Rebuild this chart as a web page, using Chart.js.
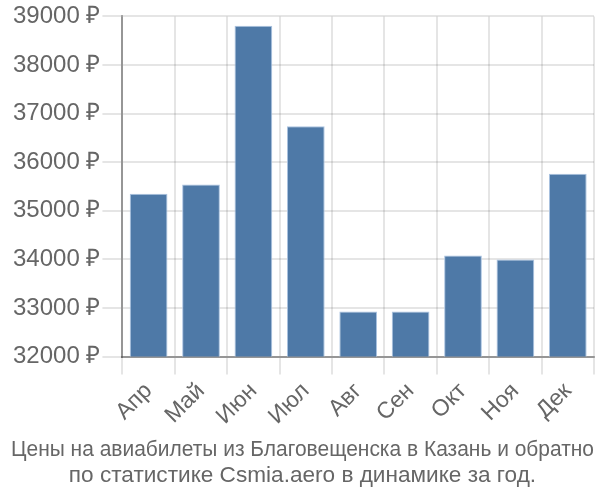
<!DOCTYPE html>
<html>
<head>
<meta charset="utf-8">
<script src="https://cdn.jsdelivr.net/npm/chart.js@4"></script>
<style>
  html, body { margin: 0; padding: 0; background: #fff; }
  #wrap { width: 600px; height: 500px; }
</style>
</head>
<body>
<div id="wrap"><canvas id="myChart"></canvas></div>
<script>
let months = ["Апр", "Май", "Июн", "Июл", "Авг", "Сен", "Окт", "Ноя", "Дек"];
let prices = [35350, 35540, 38810, 36740, 32930, 32930, 34080, 34000, 35760];
let titleLines = ["Цены на авиабилеты из Благовещенска в Казань и обратно", "по статистике Csmia.aero в динамике за год."];

Chart.defaults.font.family = "'Liberation Sans', Arial, sans-serif";
Chart.defaults.color = "#666";

function renderChart(data, labels) {
    var ctx = document.getElementById("myChart").getContext('2d');
    new Chart(ctx, {
        type: 'bar',
        data: {
            labels: labels,
            datasets: [{
                data: data,
                backgroundColor: 'rgba(78, 121, 167, 1)',
                borderColor: 'rgba(170, 195, 225, 1)',
                borderWidth: 1
            }]
        },
        options: {
            responsive: true,
            maintainAspectRatio: false,
            animation: false,
            layout: { padding: { left: 11, right: 6, top: 4, bottom: 11 } },
            plugins: {
                legend: { display: false },
                tooltip: { enabled: false },
                title: {
                    display: true,
                    position: 'bottom',
                    text: titleLines,
                    font: { size: 22.6, weight: 'normal', lineHeight: 1.17 },
                    color: '#666',
                    padding: { top: 3, bottom: 0 }
                }
            },
            scales: {
                x: {
                    grid: { color: 'rgba(0,0,0,0.1)', lineWidth: 2, tickLength: 18 },
                    border: { color: 'rgba(0,0,0,0.35)', width: 2 },
                    ticks: { font: { size: 23 }, maxRotation: 45, minRotation: 45, color: '#666' }
                },
                y: {
                    min: 32000,
                    max: 39000,
                    grid: { color: 'rgba(0,0,0,0.1)', lineWidth: 2, tickLength: 20 },
                    border: { color: 'rgba(0,0,0,0.35)', width: 2 },
                    ticks: {
                        stepSize: 1000,
                        font: { size: 24 },
                        color: '#666',
                        padding: 2,
                        callback: function(v) { return v + " ₽"; }
                    }
                }
            }
        }
    });
}

renderChart(prices, months);
</script>
</body>
</html>
